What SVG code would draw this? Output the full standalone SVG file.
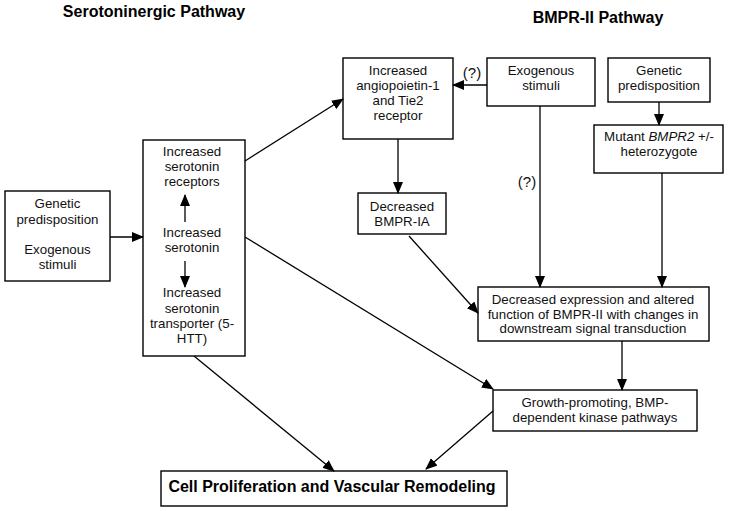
<svg xmlns="http://www.w3.org/2000/svg" width="729" height="511" viewBox="0 0 729 511">
<style>
.box{fill:#fff;stroke:#000;stroke-width:1.4}
.t{font-family:"Liberation Sans",Arial,sans-serif;font-size:13.3px;fill:#111;text-anchor:middle}
.q{font-family:"Liberation Sans",Arial,sans-serif;font-size:15px;fill:#111;text-anchor:middle}
.b{font-family:"Liberation Sans",Arial,sans-serif;font-size:16px;font-weight:bold;fill:#000;text-anchor:middle}
.c{stroke:#000;stroke-width:1.3;fill:none;marker-end:url(#ah)}
</style>
<defs>
<marker id="ah" markerUnits="userSpaceOnUse" markerWidth="12" markerHeight="10" refX="11" refY="5" orient="auto" viewBox="0 0 12 10">
<path d="M0,0 L12,5 L0,10 Z" fill="#000"/>
</marker>
</defs>
<rect width="729" height="511" fill="#fff"/>
<text class="b" x="154" y="17">Serotoninergic Pathway</text>
<text class="b" x="598" y="23">BMPR-II Pathway</text>

<g id="genetic-left">
<rect class="box" x="5" y="191" width="105" height="90"/>
<text class="t" x="57.5" y="208">Genetic</text>
<text class="t" x="57.5" y="224">predisposition</text>
<text class="t" x="57.5" y="254">Exogenous</text>
<text class="t" x="57.5" y="269">stimuli</text>
</g>

<g id="serotonin">
<rect class="box" x="143" y="140" width="102" height="216"/>
<text class="t" x="192" y="156">Increased</text>
<text class="t" x="192" y="171">serotonin</text>
<text class="t" x="192" y="186">receptors</text>
<text class="t" x="192" y="237">Increased</text>
<text class="t" x="192" y="252">serotonin</text>
<text class="t" x="192" y="297">Increased</text>
<text class="t" x="192" y="313">serotonin</text>
<text class="t" x="192" y="328">transporter (5-</text>
<text class="t" x="192" y="343">HTT)</text>
</g>

<g id="angiopoietin">
<rect class="box" x="343" y="58" width="110" height="81"/>
<text class="t" x="398" y="75">Increased</text>
<text class="t" x="398" y="90">angiopoietin-1</text>
<text class="t" x="398" y="105">and Tie2</text>
<text class="t" x="398" y="120">receptor</text>
</g>

<g id="exogenous-right">
<rect class="box" x="487" y="58" width="108" height="48"/>
<text class="t" x="541" y="75">Exogenous</text>
<text class="t" x="541" y="90">stimuli</text>
</g>

<g id="genetic-right">
<rect class="box" x="608" y="58" width="102" height="44"/>
<text class="t" x="659" y="75">Genetic</text>
<text class="t" x="659" y="90">predisposition</text>
</g>

<g id="mutant">
<rect class="box" x="594" y="125" width="129" height="48"/>
<text class="t" x="659" y="141">Mutant <tspan font-style="italic">BMPR2</tspan> +/-</text>
<text class="t" x="659" y="156">heterozygote</text>
</g>

<g id="bmpr-ia">
<rect class="box" x="358" y="193" width="88" height="41"/>
<text class="t" x="402" y="211">Decreased</text>
<text class="t" x="402" y="226">BMPR-IA</text>
</g>

<g id="decreased-expression">
<rect class="box" x="478" y="287" width="231" height="54"/>
<text class="t" x="593" y="304">Decreased expression and altered</text>
<text class="t" x="593" y="319">function of BMPR-II with changes in</text>
<text class="t" x="593" y="333">downstream signal transduction</text>
</g>

<g id="growth">
<rect class="box" x="493" y="390" width="204" height="41"/>
<text class="t" x="595" y="407">Growth-promoting, BMP-</text>
<text class="t" x="595" y="422">dependent kinase pathways</text>
</g>

<g id="cell-proliferation">
<rect class="box" x="161" y="471" width="346" height="35"/>
<text class="b" x="332" y="492">Cell Proliferation and Vascular Remodeling</text>
</g>

<g id="connectors">
<line class="c" x1="110" y1="237" x2="143" y2="237"/>
<line class="c" x1="185" y1="222" x2="185" y2="195"/>
<line class="c" x1="185" y1="261" x2="185" y2="287"/>
<line class="c" x1="245" y1="161" x2="343" y2="99"/>
<line class="c" x1="487" y1="85" x2="453" y2="85"/>
<line class="c" x1="398" y1="139" x2="398" y2="193"/>
<line class="c" x1="659" y1="102" x2="659" y2="125"/>
<line class="c" x1="540" y1="106" x2="540" y2="287"/>
<line class="c" x1="662" y1="173" x2="662" y2="287"/>
<line class="c" x1="409" y1="236" x2="478" y2="313"/>
<line class="c" x1="622" y1="341" x2="622" y2="390"/>
<line class="c" x1="245" y1="237" x2="493" y2="389"/>
<line class="c" x1="493" y1="411" x2="426" y2="469"/>
<line class="c" x1="194" y1="356" x2="334" y2="471"/>
<text class="q" x="472" y="78">(?)</text>
<text class="q" x="527" y="187">(?)</text>
</g>
</svg>
